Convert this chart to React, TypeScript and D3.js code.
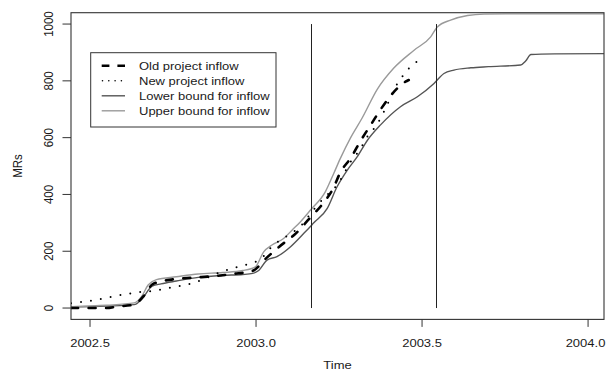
import React, { useRef, useEffect } from "react";
import * as d3 from "d3";

// Series: each series has its own time points
const lowerTime = [2002.443, 2002.55, 2002.633, 2002.655, 2002.687, 2002.714, 2002.76, 2002.826, 2002.9, 2002.96, 2002.99, 2003.008, 2003.033, 2003.063, 2003.104, 2003.144, 2003.174, 2003.214, 2003.244, 2003.275, 2003.305, 2003.335, 2003.375, 2003.435, 2003.486, 2003.536, 2003.566, 2003.596, 2003.647, 2003.7, 2003.797, 2003.812, 2003.828, 2003.9, 2004.05];
const lowerBound = [4, 7, 12, 30, 77, 85, 95, 108, 115, 118, 122, 132, 169, 181, 216, 263, 300, 350, 427, 486, 533, 590, 645, 709, 744, 791, 826, 838, 846, 850, 856, 870, 893, 895, 896];

const upperTime = [2002.443, 2002.55, 2002.633, 2002.655, 2002.675, 2002.7, 2002.76, 2002.826, 2002.9, 2002.96, 2002.998, 2003.023, 2003.048, 2003.083, 2003.109, 2003.134, 2003.164, 2003.209, 2003.234, 2003.254, 2003.285, 2003.32, 2003.365, 2003.415, 2003.476, 2003.526, 2003.546, 2003.586, 2003.637, 2003.687, 2003.8, 2004.05];
const upperBound = [5, 10, 18, 40, 81, 100, 110, 120, 125, 132, 145, 198, 222, 245, 275, 304, 345, 410, 474, 527, 600, 670, 770, 845, 908, 955, 990, 1014, 1030, 1035, 1036, 1036];

const oldTime = [2002.443, 2002.55, 2002.58, 2002.633, 2002.66, 2002.69, 2002.75, 2002.81, 2002.87, 2002.93, 2002.99, 2003.03, 2003.07, 2003.12, 2003.16, 2003.2, 2003.23, 2003.255, 2003.285, 2003.315, 2003.345, 2003.375, 2003.407, 2003.45, 2003.46];
const oldInflow = [0, 0, 5, 12, 40, 85, 101, 107, 112, 120, 131, 175, 216, 263, 314, 366, 416, 480, 528, 589, 644, 699, 750, 797, 803];

const newTime = [2002.443, 2002.514, 2002.575, 2002.635, 2002.693, 2002.753, 2002.812, 2002.85, 2002.892, 2002.922, 2002.951, 2002.98, 2003.01, 2003.053, 2003.098, 2003.134, 2003.176, 2003.21, 2003.244, 2003.285, 2003.315, 2003.335, 2003.363, 2003.39, 2003.427, 2003.444, 2003.463, 2003.484];
const newInflow = [17, 28, 42, 54, 61, 74, 89, 105, 126, 137, 147, 156, 169, 222, 257, 288, 350, 394, 433, 515, 562, 603, 644, 703, 793, 820, 847, 867];

const xTicks = [2002.5, 2003.0, 2003.5, 2004.0];
const yTicks = [0, 200, 400, 600, 800, 1000];
const markerTimes = [2003.166, 2003.542];
const legendLabels = ["Old project inflow", "New project inflow", "Lower bound for inflow", "Upper bound for inflow"];

const FONT = "'Liberation Sans', Arial, Helvetica, sans-serif";
const STRETCH = 1.13;

const App = () => {
  const svgRef = useRef<SVGSVGElement | null>(null);

  useEffect(() => {
    const svg = d3.select(svgRef.current);
    svg.selectAll("*").remove();

    const left = 71, right = 604, top = 12.7, bottom = 319.4;
    const x = d3.scaleLinear().domain([2002.4427, 2004.048]).range([left, right]);
    const y = d3.scaleLinear().domain([-40, 1040]).range([bottom, top]);

    svg.append("rect").attr("width", 607).attr("height", 375).attr("fill", "white");

    svg.append("defs").append("clipPath").attr("id", "plotClip")
      .append("rect")
      .attr("x", left).attr("y", top)
      .attr("width", right - left).attr("height", bottom - top);

    const plot = svg.append("g").attr("clip-path", "url(#plotClip)");

    const series = [
      { t: lowerTime, v: lowerBound, color: "#555", width: 1.4, dash: null },
      { t: upperTime, v: upperBound, color: "#9a9a9a", width: 1.4, dash: null },
      { t: oldTime, v: oldInflow, color: "#000", width: 2.6, dash: "7 10.5" },
      { t: newTime, v: newInflow, color: "#000", width: 2, dash: "0 10" },
    ];

    series.forEach(s => {
      const line = d3.line<number>()
        .x((d, i) => x(s.t[i]))
        .y(d => y(d))
        .curve(d3.curveMonotoneX);
      plot.append("path")
        .attr("d", line(s.v))
        .attr("fill", "none")
        .attr("stroke", s.color)
        .attr("stroke-width", s.width)
        .attr("stroke-linecap", "round")
        .attr("stroke-linejoin", "round")
        .attr("stroke-dasharray", s.dash);
    });

    // vertical markers from 0 to 1000
    plot.selectAll(".marker")
      .data(markerTimes)
      .enter()
      .append("line")
      .attr("x1", d => Math.round(x(d)) + 0.5)
      .attr("x2", d => Math.round(x(d)) + 0.5)
      .attr("y1", y(0))
      .attr("y2", y(1000))
      .attr("stroke", "#222")
      .attr("stroke-width", 1);

    // frame
    svg.append("rect")
      .attr("x", left).attr("y", top)
      .attr("width", right - left).attr("height", bottom - top)
      .attr("fill", "none")
      .attr("stroke", "#333")
      .attr("stroke-width", 1.1);

    // x axis
    const xAxis = svg.append("g");
    xAxis.selectAll("line")
      .data(xTicks)
      .enter()
      .append("line")
      .attr("x1", d => x(d)).attr("x2", d => x(d))
      .attr("y1", bottom).attr("y2", bottom + 7.5)
      .attr("stroke", "#333");
    xAxis.selectAll("g.lbl")
      .data(xTicks)
      .enter()
      .append("g")
      .attr("transform", d => `translate(${Math.min(x(d), 585.5)},346.7) scale(${STRETCH},1)`)
      .append("text")
      .attr("text-anchor", "middle")
      .style("font-family", FONT)
      .style("font-size", "11.5px")
      .attr("fill", "#1a1a1a")
      .text(d => d3.format(".1f")(d));

    // y axis
    const yAxis = svg.append("g");
    yAxis.selectAll("line")
      .data(yTicks)
      .enter()
      .append("line")
      .attr("x1", left).attr("x2", left - 8.5)
      .attr("y1", d => y(d)).attr("y2", d => y(d))
      .attr("stroke", "#333");
    yAxis.selectAll("g.lbl")
      .data(yTicks)
      .enter()
      .append("g")
      .attr("transform", d => `translate(53,${y(d)}) scale(${STRETCH},1) rotate(-90)`)
      .append("text")
      .attr("text-anchor", "middle")
      .style("font-family", FONT)
      .style("font-size", "11.5px")
      .attr("fill", "#1a1a1a")
      .text(d => String(d));

    // axis titles
    svg.append("g")
      .attr("transform", `translate(${(left + right) / 2},369) scale(${STRETCH},1)`)
      .append("text")
      .attr("text-anchor", "middle")
      .style("font-family", FONT)
      .style("font-size", "11.5px")
      .attr("fill", "#1a1a1a")
      .text("Time");

    svg.append("g")
      .attr("transform", `translate(21.7,${(top + bottom) / 2}) scale(${STRETCH},1) rotate(-90)`)
      .append("text")
      .attr("text-anchor", "middle")
      .style("font-family", FONT)
      .style("font-size", "11.5px")
      .attr("fill", "#1a1a1a")
      .text("MRs");

    // legend
    const legend = svg.append("g");
    legend.append("rect")
      .attr("x", 90.7).attr("y", 52.7)
      .attr("width", 185.3).attr("height", 74.3)
      .attr("fill", "white")
      .attr("stroke", "#333")
      .attr("stroke-width", 1);

    const legendStyles = [
      { color: "#000", width: 2.6, dash: "7.7 8", cap: "butt" },
      { color: "#000", width: 1.6, dash: "0 6.3", cap: "round" },
      { color: "#555", width: 1.4, dash: null, cap: "butt" },
      { color: "#9a9a9a", width: 1.4, dash: null, cap: "butt" },
    ];

    legendLabels.forEach((label, i) => {
      const base = 70 + i * 15;
      const st = legendStyles[i];
      legend.append("line")
        .attr("x1", i === 1 ? 102.5 : 101.7).attr("x2", 125)
        .attr("y1", base - 4.2).attr("y2", base - 4.2)
        .attr("stroke", st.color)
        .attr("stroke-width", st.width)
        .attr("stroke-linecap", st.cap)
        .attr("stroke-dasharray", st.dash);
      legend.append("g")
        .attr("transform", `translate(139,${base}) scale(${STRETCH},1)`)
        .append("text")
        .style("font-family", FONT)
        .style("font-size", "11.5px")
        .attr("fill", "#1a1a1a")
        .text(label);
    });
  }, []);

  return (
    <svg
      ref={svgRef}
      width={607}
      height={375}
      style={{ position: "absolute", left: 0, top: 0, display: "block" }}
    />
  );
};

export default App;
